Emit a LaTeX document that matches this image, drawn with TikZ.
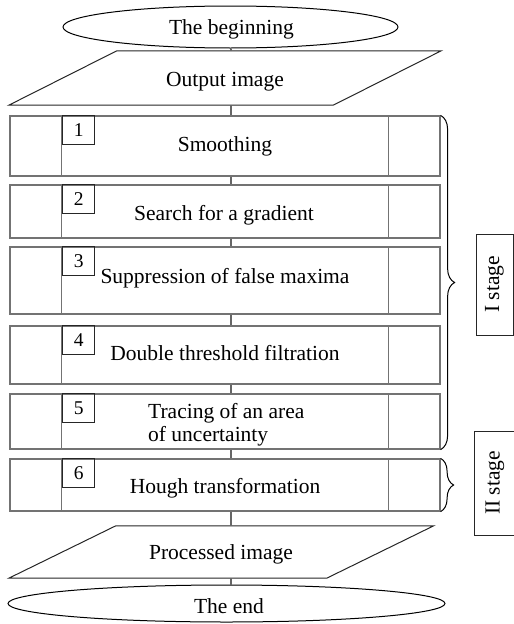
\documentclass[tikz,border=0pt]{standalone}
\usepackage{fontspec}
\setmainfont{Liberation Serif}
\usetikzlibrary{shapes.geometric,decorations.pathreplacing,calc}
\begin{document}
\begin{tikzpicture}[x=1pt,y=-1pt,
  txt/.style={font=\fontsize{21.5}{24}\selectfont, inner sep=0, anchor=base},
  term/.style={ellipse, draw=black, line width=1pt, inner sep=0},
  shell/.style={inner sep=0, minimum width=#1},
  io/.style={draw=black!85, line width=1pt},
  procbox/.style={draw=black!55, line width=1.2pt, inner sep=0, minimum width=430pt},
  divider/.style={draw=black!55, line width=1.2pt},
  numbox/.style={draw=black!85, line width=0.9pt, inner sep=0, minimum width=32pt,
                 minimum height=29pt, anchor=north west, font=\fontsize{19.5}{22}\selectfont},
  edge/.style={draw=black!60, line width=1.1pt},
  bracket/.style={draw=black, line width=1pt, decorate, decoration={brace, amplitude=#1}},
  stagebox/.style={draw=black!85, line width=1pt, rotate=90, inner sep=0,
                   font=\fontsize{21.5}{24}\selectfont}]
\useasboundingbox (0,0) rectangle (514,624);

% vertical axis of the connectors
\coordinate (axis) at (231,0);

% start terminal
\node[term, minimum width=335pt, minimum height=42pt] (begin) at (230.5,27) {};
\node[txt] (tbegin) at (231.5,34) {The beginning};

% input parallelogram
\node[shell=324pt, minimum height=54pt] (out) at (225,78) {};
\draw[io] ($(out.north west)+(54,0)$) -- ($(out.north east)+(54,0)$)
       -- ($(out.south east)+(-54,0)$) -- ($(out.south west)+(-54,0)$) -- cycle;
\node[txt] (tout) at (225,86) {Output image};

% processing steps
\node[procbox, minimum height=60pt] (b1) at (225,146) {};
\node[procbox, minimum height=53pt] (b2) at (225,211.5) {};
\node[procbox, minimum height=67pt] (b3) at (225,280.5) {};
\node[procbox, minimum height=58pt] (b4) at (225,355) {};
\node[procbox, minimum height=55pt] (b5) at (225,421.5) {};
\node[procbox, minimum height=52pt] (b6) at (225,485) {};

\foreach \b/\n in {b1/1,b2/2,b3/3,b4/4,b5/5,b6/6}{
  \draw[divider] ([xshift=52pt]\b.north west) -- ([xshift=52pt]\b.south west);
  \draw[divider] ([xshift=-52pt]\b.north east) -- ([xshift=-52pt]\b.south east);
  \node[numbox] (n\n) at ([xshift=53pt]\b.north west) {\n};
}

\node[txt] (l1) at (225,151) {Smoothing};
\node[txt] (l2) at (224,220) {Search for a gradient};
\node[txt] (l3) at (225,283) {Suppression of false maxima};
\node[txt] (l4) at (225,360) {Double threshold filtration};
\node[txt, anchor=base west] (l5a) at (148,418) {Tracing of an area};
\node[txt, anchor=base west] (l5b) at (148,441) {of uncertainty};
\node[txt] (l6) at (225,493) {Hough transformation};

% output parallelogram
\node[shell=317.5pt, minimum height=52pt] (proc) at (221.25,552) {};
\draw[io] ($(proc.north west)+(53.5,0)$) -- ($(proc.north east)+(53.5,0)$)
       -- ($(proc.south east)+(-53.5,0)$) -- ($(proc.south west)+(-53.5,0)$) -- cycle;
\node[txt] (tproc) at (221,559) {Processed image};

% end terminal
\node[term, minimum width=437pt, minimum height=37pt] (end) at (226.5,603.5) {};
\node[txt] (tend) at (229,613) {The end};

% connectors
\draw[edge] (begin.south -| axis) -- (out.north -| axis);
\draw[edge] (out.south -| axis) -- (b1.north -| axis);
\draw[edge] (b1.south -| axis) -- (b2.north -| axis);
\draw[edge] (b2.south -| axis) -- (b3.north -| axis);
\draw[edge] (b3.south -| axis) -- (b4.north -| axis);
\draw[edge] (b4.south -| axis) -- (b5.north -| axis);
\draw[edge] (b5.south -| axis) -- (b6.north -| axis);
\draw[edge] (b6.south -| axis) -- (proc.north -| axis);
\draw[edge] (proc.south -| axis) -- (end.north -| axis);

% stage braces and labels
\draw[bracket=14pt] (b1.north east) -- (b5.south east);
\draw[bracket=13pt] (b6.north east) -- (b6.south east);
\node[stagebox, minimum width=101pt, minimum height=37pt] (st1) at (494.5,284.5) {I stage};
\node[stagebox, minimum width=104pt, minimum height=42pt] (st2) at (495,483) {II stage};
\end{tikzpicture}
\end{document}
